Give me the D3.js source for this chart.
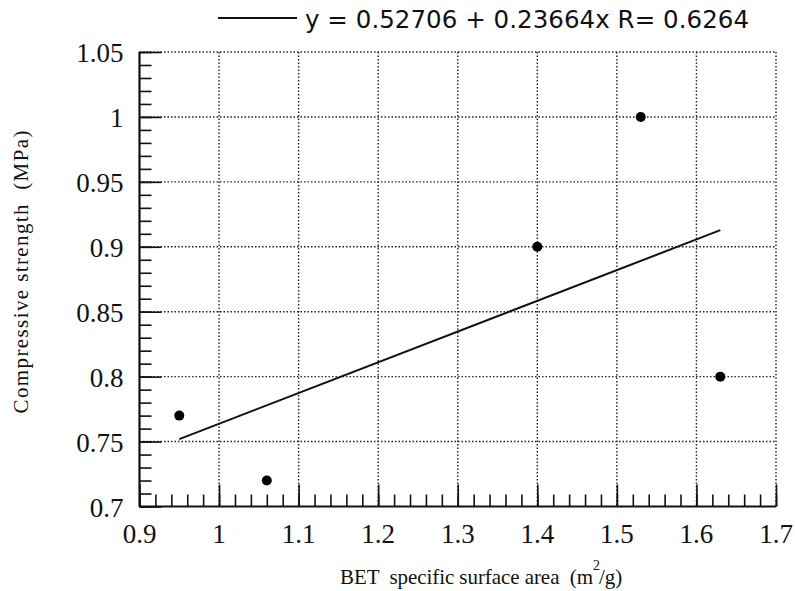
<!DOCTYPE html>
<html>
<head>
<meta charset="utf-8">
<script src="https://cdn.jsdelivr.net/npm/d3@7"></script>
<style>
  body { margin: 0; background: #fff; }
  svg { display: block; }
</style>
</head>
<body>
<svg width="795" height="591"></svg>
<script>
const svg = d3.select('svg');

// data
const bet = [0.95, 1.06, 1.40, 1.53, 1.63];
const strength = [0.77, 0.72, 0.90, 1.00, 0.80];
const fitA = 0.52706;
const fitB = 0.23664;
const fitRange = [0.95, 1.63];
const xTicks = [0.9, 1, 1.1, 1.2, 1.3, 1.4, 1.5, 1.6, 1.7];
const yTicks = [0.7, 0.75, 0.8, 0.85, 0.9, 0.95, 1, 1.05];
const legendText = 'y = 0.52706 + 0.23664x R= 0.6264';

const plotLeft = 139.5, plotRight = 776, plotTop = 52, plotBottom = 506.5;

const x = d3.scaleLinear().domain([0.9, 1.7]).range([plotLeft, plotRight]);
const y = d3.scaleLinear().domain([0.7, 1.05]).range([plotBottom, plotTop]);

// dotted grid (also forms top and right border)
const grid = svg.append('g')
  .attr('stroke', '#222')
  .attr('stroke-width', 1.4)
  .attr('stroke-dasharray', '1.5,2');

grid.selectAll('.gx')
  .data(xTicks.slice(1))
  .enter()
  .append('line')
  .attr('x1', d => x(d)).attr('x2', d => x(d))
  .attr('y1', plotTop).attr('y2', plotBottom);

grid.selectAll('.gy')
  .data(yTicks.slice(1))
  .enter()
  .append('line')
  .attr('x1', plotLeft).attr('x2', plotRight)
  .attr('y1', d => y(d)).attr('y2', d => y(d));

// bottom axis: ticks pointing inward
const xMinor = d3.range(0.9, 1.7001, 0.02);
svg.append('g')
  .attr('transform', `translate(0,${plotBottom})`)
  .call(d3.axisTop(x).tickValues(xMinor).tickSize(12).tickFormat(''))
  .call(g => g.select('.domain').remove())
  .selectAll('line').attr('stroke', '#111').attr('stroke-width', 1.6);

svg.append('g')
  .attr('transform', `translate(0,${plotBottom})`)
  .call(d3.axisTop(x).tickValues(xTicks).tickSize(22).tickFormat(''))
  .call(g => g.select('.domain').remove())
  .selectAll('line').attr('stroke', '#111').attr('stroke-width', 1.6);

// left axis: ticks pointing inward
const yMinor = d3.range(0.7, 1.0501, 0.01);
svg.append('g')
  .attr('transform', `translate(${plotLeft},0)`)
  .call(d3.axisRight(y).tickValues(yMinor).tickSize(12).tickFormat(''))
  .call(g => g.select('.domain').remove())
  .selectAll('line').attr('stroke', '#111').attr('stroke-width', 1.6);

svg.append('g')
  .attr('transform', `translate(${plotLeft},0)`)
  .call(d3.axisRight(y).tickValues(yTicks).tickSize(22).tickFormat(''))
  .call(g => g.select('.domain').remove())
  .selectAll('line').attr('stroke', '#111').attr('stroke-width', 1.6);

// solid axis lines
svg.append('line')
  .attr('x1', plotLeft).attr('x2', plotRight)
  .attr('y1', plotBottom).attr('y2', plotBottom)
  .attr('stroke', '#111').attr('stroke-width', 2.2);
svg.append('line')
  .attr('x1', plotLeft).attr('x2', plotLeft)
  .attr('y1', plotTop).attr('y2', plotBottom)
  .attr('stroke', '#111').attr('stroke-width', 2.2);

// tick labels
const serif = '"Liberation Serif", "DejaVu Serif", serif';
svg.selectAll('.xl')
  .data(xTicks)
  .enter()
  .append('text')
  .attr('x', d => x(d))
  .attr('y', plotBottom + 36.5)
  .attr('text-anchor', 'middle')
  .attr('font-family', serif)
  .attr('font-size', 27)
  .attr('fill', '#111')
  .text(d => d3.format('')(d));

svg.selectAll('.yl')
  .data(yTicks)
  .enter()
  .append('text')
  .attr('x', plotLeft - 16)
  .attr('y', d => y(d) + 10)
  .attr('text-anchor', 'end')
  .attr('font-family', serif)
  .attr('font-size', 27)
  .attr('fill', '#111')
  .text(d => d3.format('')(d));

// axis titles
const xt = svg.append('text')
  .attr('x', 340)
  .attr('y', 584)
  .attr('font-family', serif)
  .attr('font-size', 21)
  .attr('fill', '#111')
  .attr('xml:space', 'preserve');
xt.append('tspan').attr('textLength', 253).text('BET  specific surface area  (m');
xt.append('tspan').attr('dy', -14).attr('font-size', 14).text('2');
xt.append('tspan').attr('dy', 14).attr('dx', -1).text('/g)');

svg.append('text')
  .attr('transform', `translate(28,272) rotate(-90)`)
  .attr('text-anchor', 'middle')
  .attr('font-family', serif)
  .attr('font-size', 21)
  .attr('fill', '#111')
  .attr('xml:space', 'preserve')
  .attr('textLength', 283)
  .text('Compressive strength  (MPa)');

// fit line
svg.append('line')
  .attr('x1', x(fitRange[0])).attr('y1', y(fitA + fitB * fitRange[0]))
  .attr('x2', x(fitRange[1])).attr('y2', y(fitA + fitB * fitRange[1]))
  .attr('stroke', '#111').attr('stroke-width', 2);

// points
svg.selectAll('.point')
  .data(bet.map((b, i) => ({ b, s: strength[i] })))
  .enter()
  .append('circle')
  .attr('class', 'point')
  .attr('cx', d => x(d.b))
  .attr('cy', d => y(d.s))
  .attr('r', 5)
  .attr('fill', '#000');

// legend
svg.append('line')
  .attr('x1', 218).attr('x2', 297)
  .attr('y1', 18).attr('y2', 18)
  .attr('stroke', '#111').attr('stroke-width', 2);
svg.append('text')
  .attr('x', 305)
  .attr('y', 28)
  .attr('font-family', '"DejaVu Sans", sans-serif')
  .attr('font-size', 24.5)
  .attr('fill', '#111')
  .attr('textLength', 444)
  .text(legendText);
</script>
</body>
</html>
